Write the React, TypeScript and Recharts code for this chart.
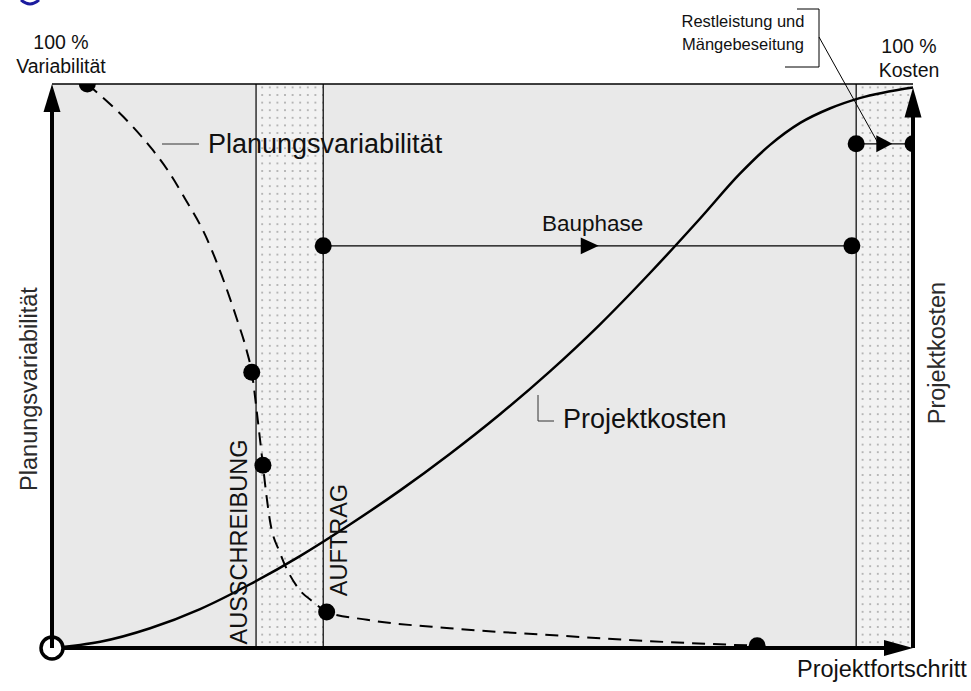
import React from "react";
import {
  ComposedChart,
  Line,
  Scatter,
  XAxis,
  YAxis,
  ReferenceArea,
  ReferenceLine,
  ReferenceDot,
} from "recharts";

// x = Projektfortschritt in %, y = Kosten / Variabilität in %
const costX = [0, 5.6, 11.4, 17.2, 23.0, 28.8, 34.6, 40.4, 46.2, 52.0, 57.8, 63.6, 69.4, 75.3, 79.9, 83.4, 86.9, 90.4, 93.8, 100];
const costY = [0, 1.1, 3.5, 6.9, 11.3, 16.3, 21.9, 27.9, 34.4, 41.4, 49.0, 57.3, 66.4, 76.2, 84.1, 89.2, 93.1, 95.7, 97.5, 99.4];

const varX = [4.1, 6.7, 9.1, 11.7, 13.4, 15.4, 17.8, 19.7, 21.5, 22.6, 23.2, 23.9, 24.5, 24.9, 25.3, 26.5, 28.5, 30.5, 31.9, 36.6, 46.2, 57.8, 69.5, 81.9];
const varY = [100, 96.5, 92.9, 88.3, 84.8, 79.8, 73.2, 66.1, 58.2, 52.8, 48.9, 40.4, 32.4, 27.1, 22.7, 16.8, 10.8, 8.0, 6.4, 5.0, 3.5, 2.3, 1.2, 0.4];

const varDotX = [4.1, 23.2, 24.5, 31.9, 81.9];
const varDotY = [100, 48.9, 32.4, 6.4, 0.4];

// phases: Ausschreibung..Auftrag, Restleistung
const bands = [
  [23.7, 31.5],
  [93.4, 100],
];
const bandEdges = [23.7, 31.5, 93.4];

const bauphaseX = [31.5, 92.9];
const bauphaseY = 71.3;
const bauphaseArrow = 63.5;

const restX = [93.4, 100];
const restY = 89.4;
const restArrow = 97.6;

const W = 971;
const H = 691;
const margin = { top: 84, right: 58, bottom: 43, left: 52 };
const font = "'Liberation Sans', Arial, sans-serif";

const costData = costX.map((x, i) => ({ x, y: costY[i] }));
const varData = varX.map((x, i) => ({ x, y: varY[i] }));
const dotData = [
  ...varDotX.map((x, i) => ({ x, y: varDotY[i] })),
  ...bauphaseX.map((x) => ({ x, y: bauphaseY })),
  ...restX.map((x) => ({ x, y: restY })),
];

const BlackDot = (p: any) => <circle cx={p.cx} cy={p.cy} r={8.5} fill="#000" />;

const arrowUp = (len: number, half: number) => (p: any) => (
  <polygon
    points={`${p.cx},${p.cy} ${p.cx - half},${p.cy + len} ${p.cx + half},${p.cy + len}`}
    fill="#000"
  />
);

const arrowRight = (len: number, half: number) => (p: any) => (
  <polygon
    points={`${p.cx},${p.cy} ${p.cx - len},${p.cy - half} ${p.cx - len},${p.cy + half}`}
    fill="#000"
  />
);

const Origin = (p: any) => (
  <g>
    <circle cx={p.cx} cy={p.cy} r={11} fill="#fff" stroke="#000" strokeWidth={3.5} />
    <line x1={p.cx} y1={p.cy - 11} x2={p.cx} y2={p.cy} stroke="#000" strokeWidth={4} />
  </g>
);

export default function App() {
  return (
    <div style={{ position: "relative", width: W, height: H, background: "#fff" }}>
      <style>{`body { margin: 0; }`}</style>
      <ComposedChart width={W} height={H} margin={margin}>
        <defs>
          <pattern id="dots" width={7.6} height={7.6} patternUnits="userSpaceOnUse">
            <rect width={7.6} height={7.6} fill="#f2f2f2" />
            <circle cx={3.8} cy={3.8} r={0.9} fill="#9b9b9b" />
          </pattern>
        </defs>
        <XAxis type="number" dataKey="x" domain={[0, 100]} hide allowDataOverflow />
        <YAxis type="number" dataKey="y" domain={[0, 100]} hide allowDataOverflow />

        <ReferenceArea x1={0} x2={100} y1={0} y2={100} fill="#e9e9e9" fillOpacity={1} stroke="none" />
        {bands.map(([a, b]) => (
          <ReferenceArea key={a} x1={a} x2={b} y1={0} y2={100} fill="url(#dots)" fillOpacity={1} stroke="none" />
        ))}
        {bandEdges.map((x) => (
          <ReferenceLine key={x} x={x} stroke="#000" strokeWidth={1.2} />
        ))}
        <ReferenceLine y={100} stroke="#000" strokeWidth={1.5} />

        <ReferenceLine
          segment={[{ x: bauphaseX[0], y: bauphaseY }, { x: bauphaseX[1], y: bauphaseY }]}
          stroke="#000"
          strokeWidth={1.3}
        />
        <ReferenceLine
          segment={[{ x: restX[0], y: restY }, { x: restX[1], y: restY }]}
          stroke="#000"
          strokeWidth={1.3}
        />

        {/* axes */}
        <ReferenceLine segment={[{ x: 0, y: 0 }, { x: 98, y: 0 }]} stroke="#000" strokeWidth={4} ifOverflow="visible" />
        <ReferenceLine segment={[{ x: 0, y: 0 }, { x: 0, y: 96 }]} stroke="#000" strokeWidth={4} ifOverflow="visible" />
        <ReferenceLine segment={[{ x: 100, y: 0 }, { x: 100, y: 96 }]} stroke="#000" strokeWidth={4} ifOverflow="visible" />

        <Line
          data={costData}
          dataKey="y"
          type="monotone"
          stroke="#000"
          strokeWidth={2.5}
          dot={false}
          activeDot={false}
          isAnimationActive={false}
        />
        <Line
          data={varData}
          dataKey="y"
          type="monotone"
          stroke="#000"
          strokeWidth={2}
          strokeDasharray="13 8"
          dot={false}
          activeDot={false}
          isAnimationActive={false}
        />
        <Scatter data={dotData} shape={BlackDot} isAnimationActive={false} />

        <ReferenceDot x={0} y={100} r={10} ifOverflow="visible" shape={arrowUp(28, 8.5)} />
        <ReferenceDot x={100} y={99.4} r={10} ifOverflow="visible" shape={arrowUp(30, 8.5)} />
        <ReferenceDot x={100} y={0} r={10} ifOverflow="visible" shape={arrowRight(29, 8)} />
        <ReferenceDot x={bauphaseArrow} y={bauphaseY} r={10} shape={arrowRight(18, 8.3)} />
        <ReferenceDot x={restArrow} y={restY} r={10} shape={arrowRight(16, 8.5)} />
        <ReferenceDot x={0} y={0} r={11} ifOverflow="visible" shape={Origin} />
      </ComposedChart>

      <svg
        width={W}
        height={H}
        style={{ position: "absolute", left: 0, top: 0, pointerEvents: "none" }}
        fontFamily={font}
        fill="#111"
      >
        {/* cut-off glyph from the page above */}
        <path d="M21,0 Q30,8 39,0" fill="none" stroke="#1b1b9e" strokeWidth={3} />

        <text x={61} y={49} textAnchor="middle" fontSize={19.5}>100 %</text>
        <text x={61} y={73} textAnchor="middle" fontSize={19.5}>Variabilität</text>
        <text x={909} y={53} textAnchor="middle" fontSize={19.5}>100 %</text>
        <text x={909} y={77} textAnchor="middle" fontSize={19.5}>Kosten</text>

        <text x={743} y={27} textAnchor="middle" fontSize={16.5}>Restleistung und</text>
        <text x={743} y={50} textAnchor="middle" fontSize={16.5}>Mängebeseitung</text>
        <polyline points="797,9 819,9 819,67 785,67" fill="none" stroke="#000" strokeWidth={1} />
        <line x1={819} y1={37} x2={878} y2={143} stroke="#000" strokeWidth={1} />

        <line x1={162} y1={144} x2={199} y2={144} stroke="#333" strokeWidth={1} />
        <text x={208} y={153} fontSize={27}>Planungsvariabilität</text>

        <text x={542} y={231} fontSize={22.5}>Bauphase</text>

        <polyline points="538,395 538,421 554,421" fill="none" stroke="#333" strokeWidth={1} />
        <text x={563} y={428} fontSize={27}>Projektkosten</text>

        <text x={247} y={542} fontSize={23.5} textAnchor="middle" transform="rotate(-90 247 542)">AUSSCHREIBUNG</text>
        <text x={347} y={540} fontSize={23.5} textAnchor="middle" transform="rotate(-90 347 540)">AUFTRAG</text>

        <text x={37} y={389} fontSize={23.5} fill="#2b2b2b" textAnchor="middle" transform="rotate(-90 37 389)">Planungsvariabilität</text>
        <text x={945} y={353} fontSize={23.5} fill="#2b2b2b" textAnchor="middle" transform="rotate(-90 945 353)">Projektkosten</text>

        <text x={797} y={677} fontSize={23.5}>Projektfortschritt</text>
      </svg>
    </div>
  );
}
